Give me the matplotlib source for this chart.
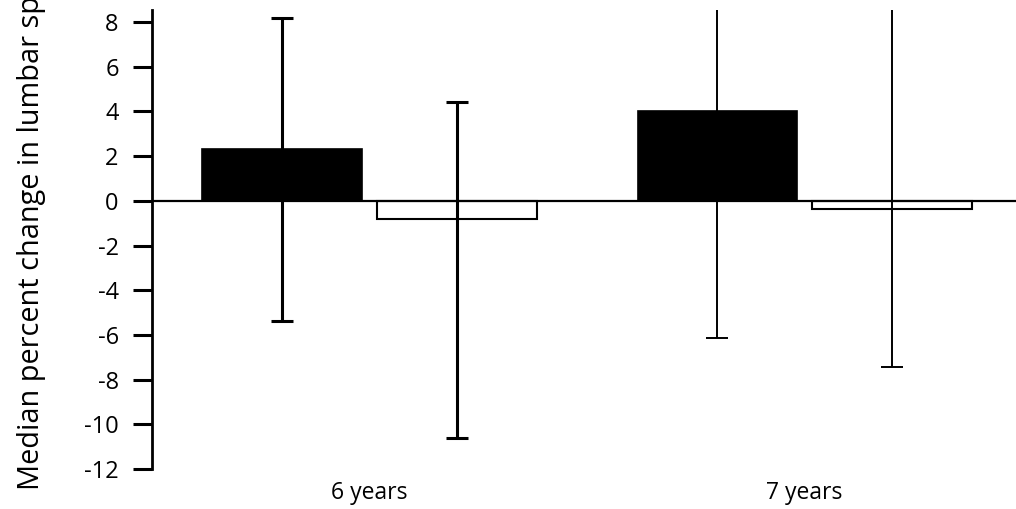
import matplotlib.pyplot as plt
import numpy as np

groups = ["6 years", "7 years"]
black_median = [2.33, 4.03]
black_low = [-5.4, -6.12]
black_high = [8.17, 11.0]
white_median = [-0.8, -0.35]
white_low = [-10.6, -7.45]
white_high = [4.43, 11.0]
yticks = [8, 6, 4, 2, 0, -2, -4, -6, -8, -10, -12]

plt.rcParams["font.family"] = ["Open Sans", "DejaVu Sans"]

fig = plt.figure(figsize=(10.16, 5.09), dpi=100)
ax = fig.add_axes([0.1496, 0.0786, 0.8504, 0.9018])

x = np.arange(len(groups))
w = 0.366
off = 0.201

ax.bar(x - off, black_median, w, color="black", edgecolor="black", linewidth=1.2, zorder=2)
ax.bar(x + off, white_median, w, color="white", edgecolor="black", linewidth=1.5, zorder=2)
ax.axhline(0, color="black", linewidth=1.6, zorder=3)

err_widths = [2.2, 1.4]
for i in range(len(groups)):
    for xs, med, lo, hi in [
        (x[i] - off, black_median[i], black_low[i], black_high[i]),
        (x[i] + off, white_median[i], white_low[i], white_high[i]),
    ]:
        ax.errorbar(xs, med, yerr=[[med - lo], [hi - med]], fmt="none",
                    ecolor="black", elinewidth=err_widths[i], capsize=8,
                    capthick=err_widths[i], zorder=4)

ax.set_xlim(-0.5, 1.486)
ax.set_ylim(-12, 8.54)
ax.set_yticks(yticks)
ax.set_yticklabels([str(t) for t in yticks], fontsize=17)
ax.set_xticks(x)
ax.set_xticklabels(groups, fontsize=16.5)
ax.tick_params(axis="x", length=0, pad=9)
ax.tick_params(axis="y", length=14, width=2.2, direction="out", pad=10)

for s in ["top", "right", "bottom"]:
    ax.spines[s].set_visible(False)
ax.spines["left"].set_linewidth(2.0)

fig.text(0.031, 0.037, "Median percent change in lumbar spine BMD", rotation=90,
         ha="center", va="bottom", fontsize=20.8)

fig.savefig("out.png", dpi=100)
